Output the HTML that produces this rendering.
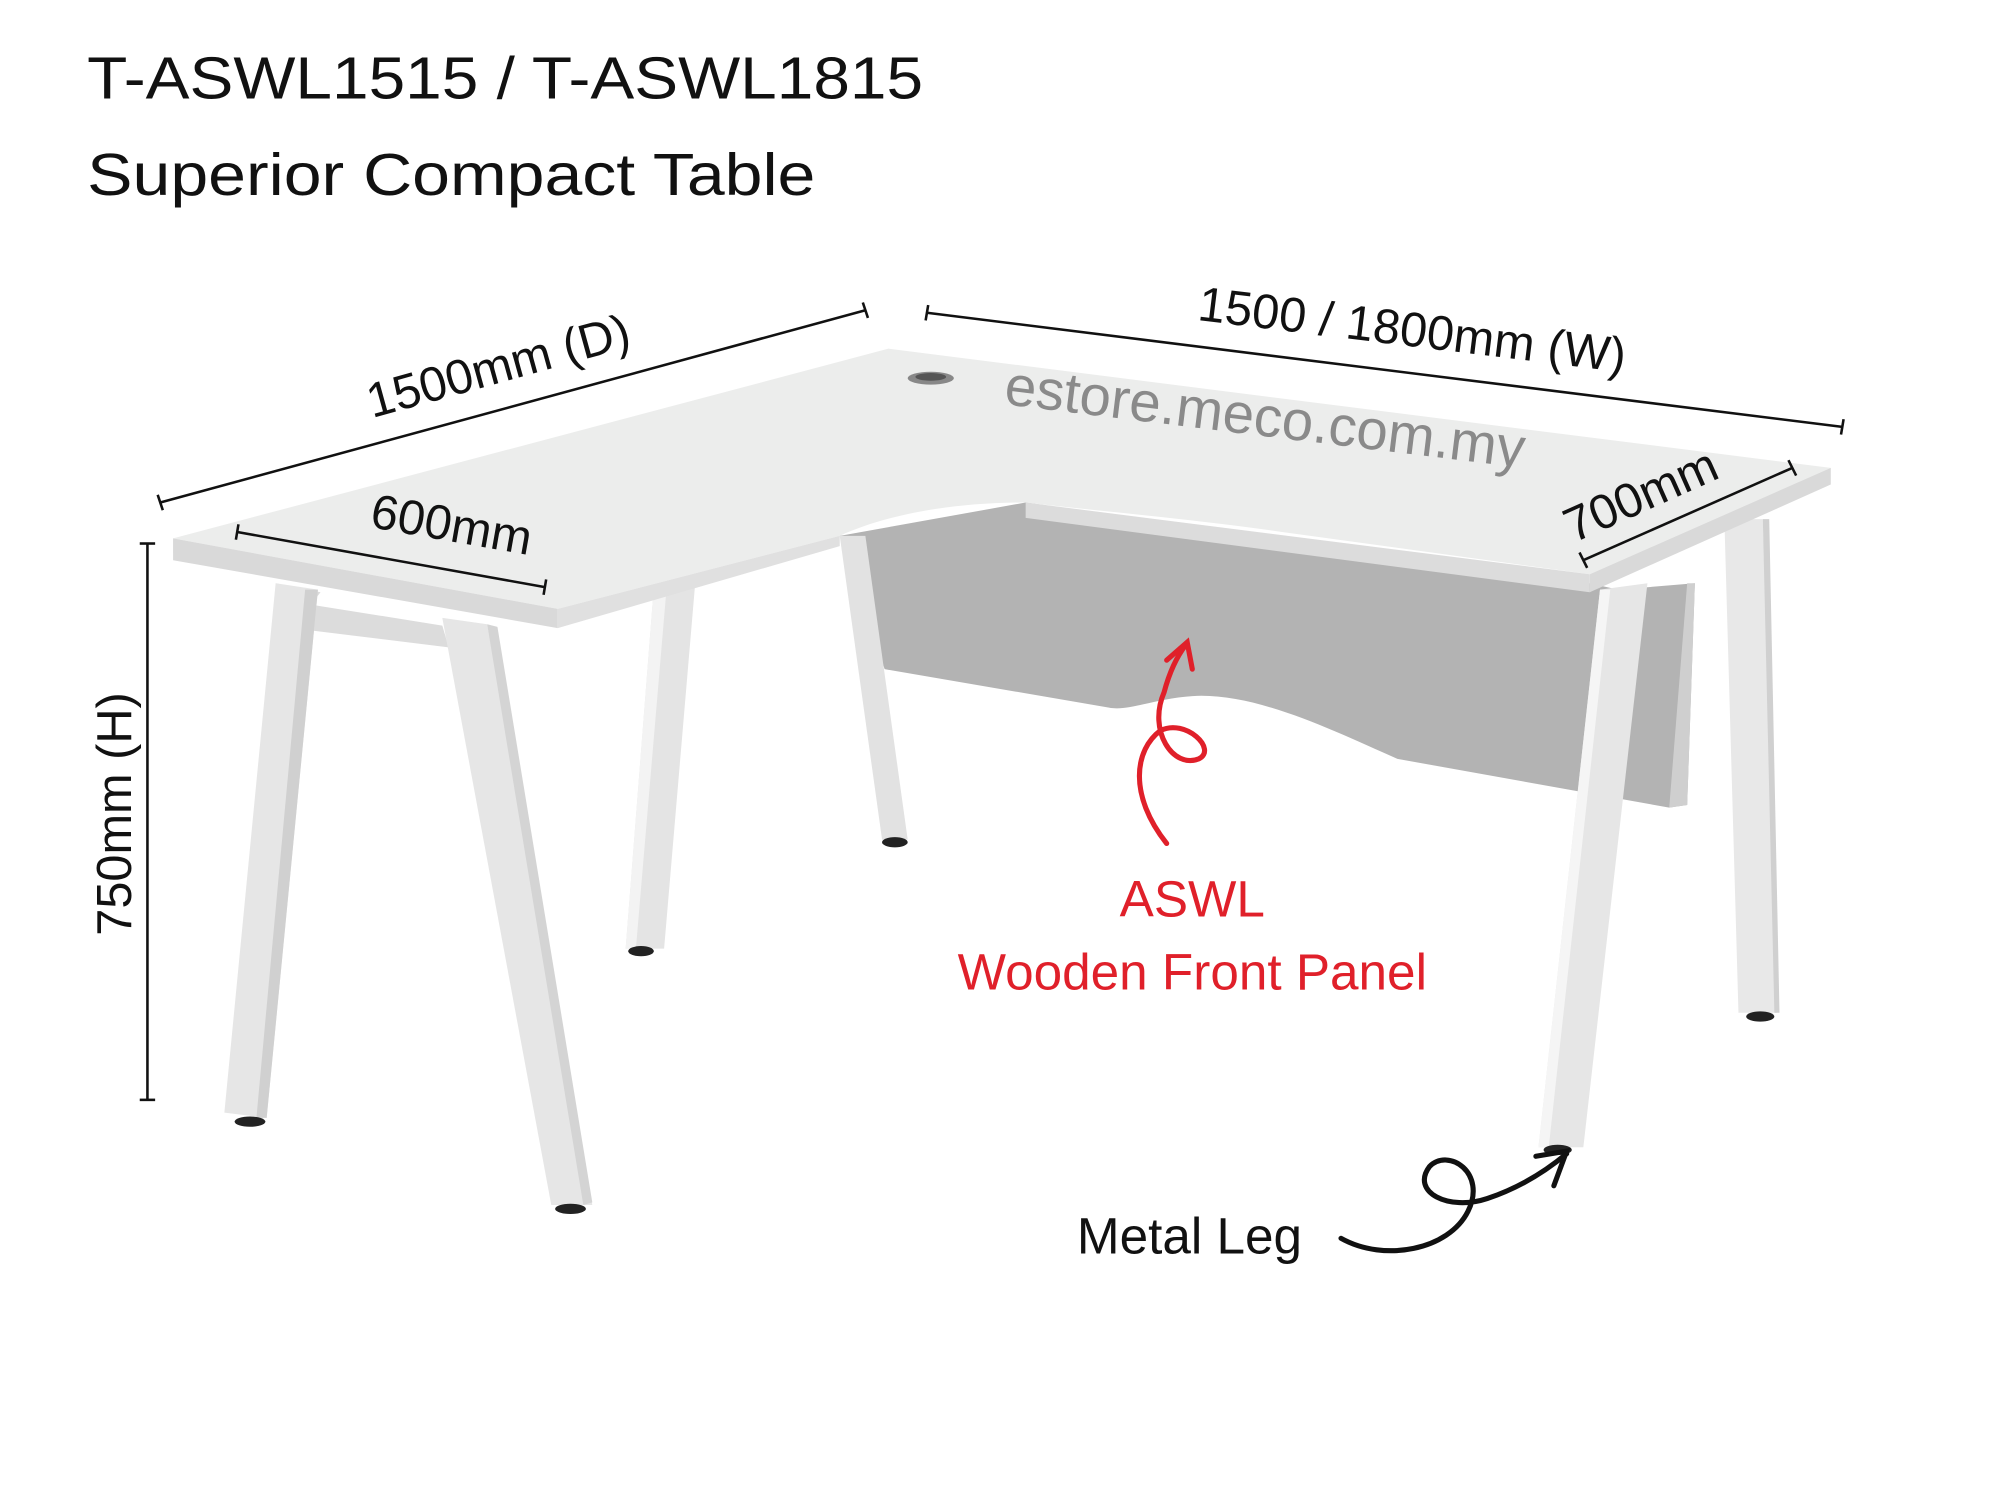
<!DOCTYPE html>
<html><head><meta charset="utf-8"><style>
html,body{margin:0;padding:0;background:#fff;}
svg{display:block;}
text{font-family:"Liberation Sans",sans-serif;}
</style></head><body>
<svg width="2000" height="1487" viewBox="0 0 1560 1160" preserveAspectRatio="none" xmlns="http://www.w3.org/2000/svg">
<rect width="1560" height="1160" fill="#fff"/>
<text x="68" y="77" font-size="46" fill="#111" textLength="652" lengthAdjust="spacingAndGlyphs">T-ASWL1515 / T-ASWL1815</text>
<text x="68" y="152" font-size="46" fill="#111" textLength="568" lengthAdjust="spacingAndGlyphs">Superior Compact Table</text>

<!-- panel -->
<path d="M655,418 L800,392 L1240,455 L1262,460 L1322,455 L1316,628 L1302,630 L1090,592 C1040,570 980,540 930,543 C900,545 880,555 865,552 L690,522 Z" fill="#b3b3b3"/>
<path d="M1316,455 L1322,455 L1316,628 L1302,630 Z" fill="#cfcfcf"/>

<!-- back legs -->
<polygon points="510,458 542,458 518,740 488,740" fill="#e4e4e4"/>
<polygon points="510,458 520,458 496,740 488,740" fill="#f3f3f3"/>
<ellipse cx="500" cy="742" rx="10" ry="4" fill="#222"/>
<polygon points="655,418 675,418 708,655 688,655" fill="#e2e2e2"/>
<ellipse cx="698" cy="657" rx="10" ry="4" fill="#222"/>
<polygon points="1345,405 1375,405 1386,790 1356,790" fill="#e8e8e8"/>
<polygon points="1375,405 1380,405 1388,790 1384,790" fill="#d0d0d0"/>
<ellipse cx="1373" cy="793" rx="11" ry="4" fill="#222"/>

<!-- table top -->
<path d="M135,420 L693,272 L1428,365 L1240,448 L1000,415 C930,405 870,400 800,392 C740,392 690,402 655,418 L435,475 Z" fill="#ecedec"/>
<polygon points="135,420 435,475 435,490 135,437" fill="#d9d9d9"/>
<polygon points="435,475 655,418 655,426 435,490" fill="#e0e0e0"/>
<polygon points="1240,448 1428,365 1428,378 1240,462" fill="#d9d9d9"/>
<path d="M800,392 L1240,448 L1240,462 L800,404 Z" fill="#dcdcdc"/>
<ellipse cx="726" cy="295" rx="18" ry="5" fill="#888"/>
<ellipse cx="726" cy="294" rx="12" ry="3" fill="#555"/>

<!-- front left legs -->
<polygon points="215,455 250,462 228,490 350,505 345,488 232,470" fill="#dcdcdc"/>
<polygon points="215,455 248,460 208,872 175,868" fill="#e6e6e6"/>
<polygon points="238,460 248,460 208,872 200,872" fill="#d0d0d0"/>
<polygon points="345,482 380,487 462,940 430,940" fill="#e6e6e6"/>
<polygon points="380,487 388,489 462,938 455,940" fill="#d4d4d4"/>
<ellipse cx="195" cy="875" rx="12" ry="4" fill="#222"/>
<ellipse cx="445" cy="943" rx="12" ry="4" fill="#222"/>
<!-- front right leg -->
<polygon points="1248,460 1285,455 1235,895 1200,895" fill="#e6e6e6"/>
<polygon points="1248,460 1256,460 1208,895 1200,895" fill="#f5f5f5"/>
<ellipse cx="1215" cy="897" rx="11" ry="4" fill="#222"/>

<!-- dimension lines -->
<g stroke="#111" stroke-width="2" fill="none">
<line x1="125" y1="392" x2="675" y2="242"/><line x1="123" y1="386" x2="127" y2="398"/><line x1="673" y1="236" x2="677" y2="248"/>
<line x1="723" y1="244" x2="1437" y2="333"/><line x1="724" y1="238" x2="722" y2="250"/><line x1="1438" y1="327" x2="1436" y2="339"/>
<line x1="1235" y1="437" x2="1398" y2="365"/><line x1="1232" y1="431" x2="1238" y2="443"/><line x1="1395" y1="359" x2="1401" y2="371"/>
<line x1="185" y1="415" x2="425" y2="458"/><line x1="186" y1="409" x2="184" y2="421"/><line x1="426" y1="452" x2="424" y2="464"/>
<line x1="115" y1="424" x2="115" y2="858"/><line x1="109" y1="424" x2="121" y2="424"/><line x1="109" y1="858" x2="121" y2="858"/>
</g>
<text font-size="38" fill="#111" text-anchor="middle" transform="translate(392,298) rotate(-15.5)">1500mm (D)</text>
<text font-size="38" fill="#111" text-anchor="middle" transform="translate(1100,270) rotate(7)">1500 / 1800mm (W)</text>
<text font-size="38" fill="#111" text-anchor="middle" transform="translate(1285,398) rotate(-24)">700mm</text>
<text font-size="38" fill="#111" text-anchor="middle" transform="translate(350,422) rotate(10)">600mm</text>
<text font-size="38" fill="#111" text-anchor="middle" transform="translate(102,635) rotate(-90)">750mm (H)</text>

<text font-size="44" fill="#8a8a8a" text-anchor="middle" transform="translate(985,340) rotate(7)">estore.meco.com.my</text>

<!-- red annotation -->
<path d="M910,658 C880,620 885,585 905,570 C925,560 950,585 935,592 C915,600 895,570 908,540 C912,525 918,512 925,503" stroke="#e0202a" stroke-width="4" fill="none" stroke-linecap="round"/>
<path d="M910,515 L926,501 L930,522" stroke="#e0202a" stroke-width="4" fill="none" stroke-linecap="round"/>
<text x="930" y="715" font-size="40" fill="#e0202a" text-anchor="middle">ASWL</text>
<text x="930" y="772" font-size="40" fill="#e0202a" text-anchor="middle">Wooden Front Panel</text>

<!-- black annotation -->
<text x="840" y="978" font-size="40" fill="#111">Metal Leg</text>
<path d="M1046,966 C1080,985 1130,975 1145,945 C1160,915 1130,895 1115,910 C1100,930 1130,945 1160,935 C1190,925 1210,910 1222,900" stroke="#111" stroke-width="4" fill="none" stroke-linecap="round"/>
<path d="M1198,902 L1222,898 L1212,925" stroke="#111" stroke-width="4" fill="none" stroke-linecap="round"/>
</svg>
</body></html>
